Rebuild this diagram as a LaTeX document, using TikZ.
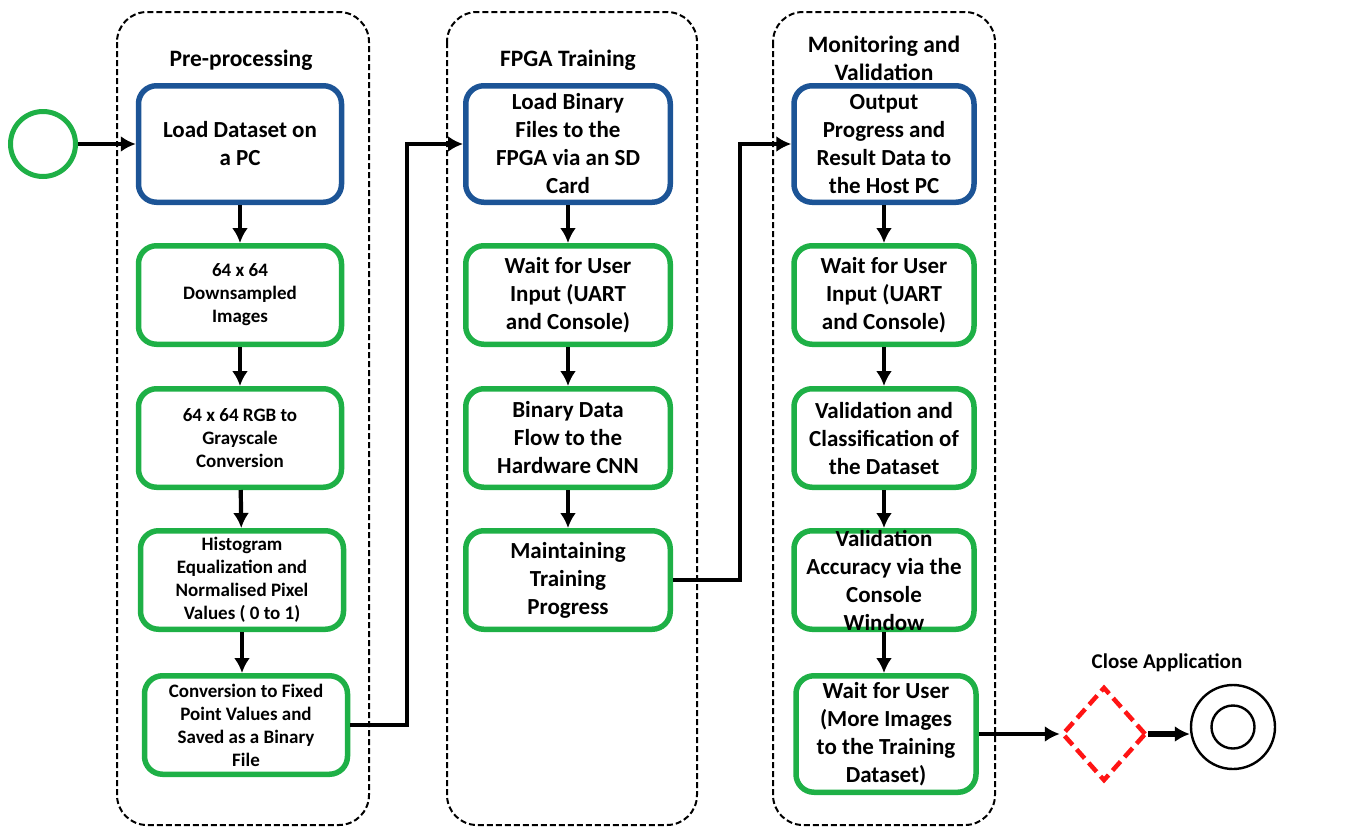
\documentclass[tikz,border=0pt]{standalone}
\usepackage{fontspec}
\setmainfont{Carlito}
\usetikzlibrary{shapes.geometric,arrows.meta}
\definecolor{vertbox}{RGB}{30,176,70}
\definecolor{bleubox}{RGB}{28,84,150}
\definecolor{rougelos}{RGB}{255,20,20}
\tikzset{
  couloir/.style={dash pattern=on 6pt off 3pt, line width=2pt, rounded corners=30pt},
  titre/.style={align=center, font=\bfseries\fontsize{23.5}{28}\selectfont},
  bloc/.style={draw=vertbox, line width=5.5pt, rounded corners=18pt, align=center, inner sep=2pt, minimum height=98.5pt, font=\bfseries\fontsize{23}{28}\selectfont},
  blocbleu/.style={bloc, draw=bleubox, minimum height=116.5pt},
  petit/.style={font=\bfseries\fontsize{19}{23}\selectfont},
  fleche/.style={-{Latex[length=15pt,width=16pt]}, line width=4.2pt},
}

\begin{document}
\begin{tikzpicture}[x=1pt,y=-1pt]
\useasboundingbox (0,0) rectangle (1350,828);
% couloirs
\draw[couloir] (117,12) rectangle (369,825);
\draw[couloir] (447,12) rectangle (697,825);
\draw[couloir] (773,12) rectangle (995,825);
\node[titre] (t1) at (241,60) {Pre-processing};
\node[titre] (t2) at (568,60) {FPGA Training};
\node[titre] (t3) at (884,58) {Monitoring and\\Validation};
% debut
\node[circle, draw=vertbox, line width=5pt, minimum size=65pt] (debut) at (43,144) {};
% pre-processing
\node[blocbleu, minimum width=203pt] (b1) at (240,144) {Load Dataset on\\a PC};
\node[bloc, petit, minimum width=203pt] (b2) at (240,295) {64 x 64\\Downsampled\\Images};
\node[bloc, petit, minimum width=203pt] (b3) at (240,438) {64 x 64 RGB to\\Grayscale\\Conversion};
\node[bloc, petit, minimum width=203pt] (b4) at (242,580) {Histogram\\Equalization and\\Normalised Pixel\\Values ( 0 to 1)};
\node[bloc, petit, minimum width=203pt] (b5) at (246,725) {Conversion to Fixed\\Point Values and\\Saved as a Binary\\File};
% FPGA
\node[blocbleu, minimum width=204.5pt] (c1) at (568,144) {Load Binary\\Files to the\\FPGA via an SD\\Card};
\node[bloc, minimum width=204.5pt] (c2) at (568,295) {Wait for User\\Input (UART\\and Console)};
\node[bloc, minimum width=204.5pt] (c3) at (568,438) {Binary Data\\Flow to the\\Hardware CNN};
\node[bloc, minimum width=204.5pt] (c4) at (568,580) {Maintaining\\Training\\Progress};
% monitoring
\node[blocbleu, minimum width=180pt] (d1) at (884,144) {Output\\Progress and\\Result Data to\\the Host PC};
\node[bloc, minimum width=180pt] (d2) at (884,295) {Wait for User\\Input (UART\\and Console)};
\node[bloc, minimum width=180pt] (d3) at (884,438) {Validation and\\Classification of\\the Dataset};
\node[bloc, minimum width=180pt, inner ysep=-8pt] (d4) at (884,580) {Validation\\Accuracy via the\\Console\\Window};
\node[blocbleu, draw=vertbox, minimum width=180pt] (d5) at (886,734) {Wait for User\\(More Images\\to the Training\\Dataset)};
% fin
\node[titre, font=\bfseries\fontsize{21}{26}\selectfont] (close) at (1167,663) {Close Application};
\node[diamond, draw=rougelos, line width=4.5pt, dash pattern=on 12pt off 6pt, minimum width=84pt, minimum height=94pt, inner sep=0pt] (losange) at (1104,734) {};
\node[circle, draw, line width=2.4pt, minimum size=84pt] (fin) at (1233,727) {};
\node[circle, draw, line width=2.4pt, minimum size=43pt] (fin2) at (fin) {};
% fleches
\draw[fleche] (debut) -- (b1);
\foreach \a/\b in {b1/b2,b2/b3,b3/b4,c1/c2,c2/c3,c3/c4,d1/d2,d2/d3,d3/d4}
  \draw[fleche] (\a) -- (\b);
\draw[fleche] (b4.south) -- (b4.south |- b5.north);
\draw[fleche] (d4.south) -- (d4.south |- d5.north);
\draw[fleche] (b5.east) -- ++(57,0) |- (c1.west);
\draw[fleche] (c4.east) -- ++(67,0) |- (d1.west);
\draw[fleche] (d5.east) -- (losange.west);
\draw[fleche, line width=6pt] (losange.east) -- (losange.east -| fin.west);
\end{tikzpicture}
\end{document}
